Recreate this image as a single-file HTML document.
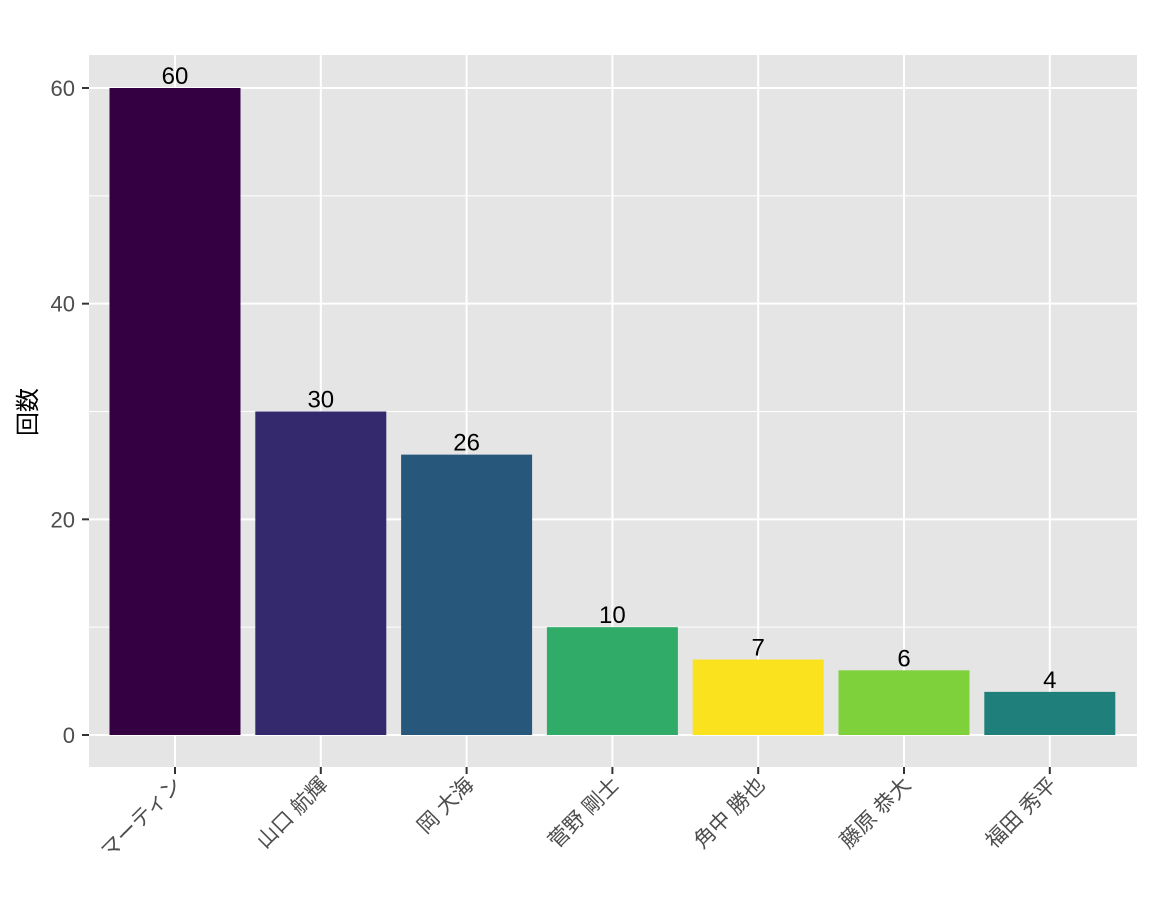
<!DOCTYPE html>
<html><head><meta charset="utf-8"><style>body{margin:0;background:#fff}svg{display:block}text{font-family:"Liberation Sans","Noto Sans CJK JP",sans-serif}</style></head>
<body>
<svg id="chart" width="1152" height="921" xmlns="http://www.w3.org/2000/svg">
<rect x="89" y="55" width="1048" height="712" fill="#e5e5e5"/>
<g id="grid"></g><g id="bars"></g><g id="axes"></g>
<text transform="translate(36,412) rotate(-90)" text-anchor="middle" font-size="24" fill="#000">回数</text>
</svg>
<script>
const categories=["マーティン","山口 航輝","岡 大海","菅野 剛士","角中 勝也","藤原 恭大","福田 秀平"];
const values=[60,30,26,10,7,6,4];
const colors=["#340042","#35296e","#27577a","#30ac68","#fbe21f","#7fd13b","#1f7f7a"];
const yTicks=[0,20,40,60];
const NS="http://www.w3.org/2000/svg";
const y=v=>735-v*(647/60);
const x=i=>175+i*145.8;
function mk(t,a,p){const e=document.createElementNS(NS,t);for(const k in a)e.setAttribute(k,a[k]);p.appendChild(e);return e;}
const grid=document.getElementById('grid'),bars=document.getElementById('bars'),axes=document.getElementById('axes');
for(let v=10;v<=70;v+=20){if(y(v)<55)continue;const l=mk('line',{x1:89,x2:1137,y1:y(v),y2:y(v),stroke:'#fff','stroke-width':1},grid);

}
yTicks.forEach(v=>{const l=mk('line',{x1:89,x2:1137,y1:y(v),y2:y(v),stroke:'#fff','stroke-width':2},grid);


const t=mk('line',{x1:82,x2:89,y1:y(v),y2:y(v),stroke:'#333','stroke-width':2},axes);


const tx=mk('text',{x:75,y:y(v)+8,'text-anchor':'end','font-size':22,fill:'#4d4d4d'},axes);tx.textContent=v;

});
categories.forEach((c,i)=>{const l=mk('line',{x1:x(i),x2:x(i),y1:55,y2:767,stroke:'#fff','stroke-width':2},grid);


const b=mk('rect',{x:x(i)-65.5,y:y(values[i]),width:131,height:y(0)-y(values[i]),fill:colors[i]},bars);


const vl=mk('text',{x:x(i),y:y(values[i])-4,'text-anchor':'middle','font-size':24,fill:'#000'},bars);vl.textContent=values[i];


const t=mk('line',{x1:x(i),x2:x(i),y1:767,y2:774,stroke:'#333','stroke-width':2},axes);


const tx=mk('text',{transform:`translate(${x(i)+8},${786}) rotate(-45)`,'text-anchor':'end','font-size':21,fill:'#4d4d4d'},axes);tx.textContent=c;

});
</script>
</body></html>
